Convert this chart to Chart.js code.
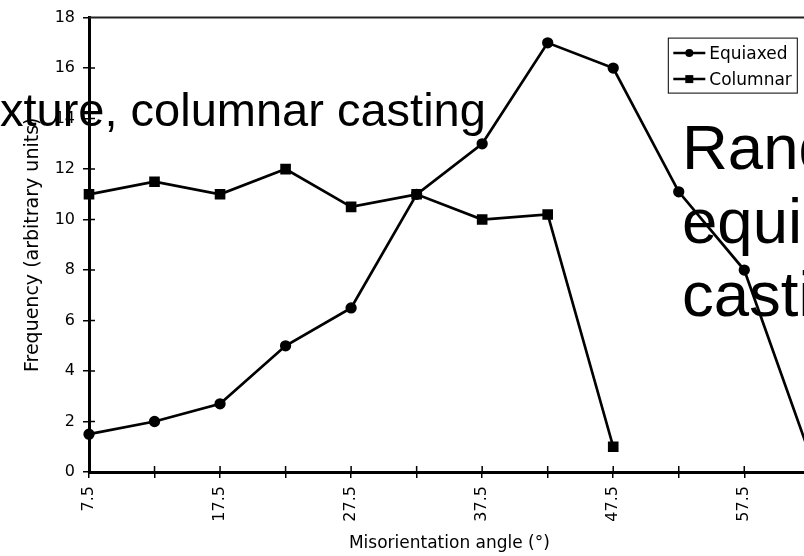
<!DOCTYPE html>
<html>
<head>
<meta charset="utf-8">
<script src="https://cdn.jsdelivr.net/npm/chart.js@4.4.0/dist/chart.umd.min.js"></script>
<style>
  html, body { margin: 0; padding: 0; overflow: hidden; background: #fff; width: 804px; height: 556px; }
  #wrap { position: relative; width: 837px; height: 556px; }
  .note { position: absolute; font-family: "Liberation Sans", Arial, sans-serif; color: #000; white-space: nowrap; pointer-events: none; }
  #note1 { left: 0; top: 86px; font-size: 47px; line-height: 47px; }
  #note2 { left: 682px; top: 111px; font-size: 63.5px; line-height: 73.5px; }
</style>
</head>
<body>
<div id="wrap">
  <canvas id="myChart"></canvas>
  <div class="note" id="note1">xture, columnar casting</div>
  <div class="note" id="note2">Random<br>equiaxed<br>casting</div>
</div>
<script>
// data
const angles = ['7.5', '12.5', '17.5', '22.5', '27.5', '32.5', '37.5', '42.5', '47.5', '52.5', '57.5', '62.5']
const equiaxed = [1.5, 2, 2.7, 5, 6.5, 11, 13, 17, 16, 11.1, 8, 0.7]
const columnar = [11, 11.5, 11, 12, 10.5, 11, 10, 10.2, 1, null, null, null]
const yMin = 0
const yMax = 18
const yStep = 2

const FONT = "'DejaVu Sans', sans-serif"

// ticks that cross the axis + top frame line
const framePlugin = {
    id: 'frame',
    afterDraw(chart) {
        const ctx = chart.ctx
        const a = chart.chartArea
        const x = chart.scales.x
        const y = chart.scales.y
        ctx.save()
        ctx.strokeStyle = '#000'
        ctx.lineWidth = 1.5
        ctx.beginPath()
        x.ticks.forEach((t, i) => {
            const px = x.getPixelForTick(i)
            ctx.moveTo(px, a.bottom)
            ctx.lineTo(px, a.bottom - 6)
        })
        y.ticks.forEach((t, i) => {
            if (t.value == yMax) return
            const py = y.getPixelForTick(i)
            ctx.moveTo(a.left, py)
            ctx.lineTo(a.left + 6, py)
        })
        ctx.stroke()
        ctx.strokeStyle = '#222'
        ctx.lineWidth = 2
        ctx.beginPath()
        ctx.moveTo(a.left, a.top)
        ctx.lineTo(a.right, a.top)
        ctx.stroke()
        ctx.restore()
    }
}

// boxed legend inside the plot, top right
const boxLegend = {
    id: 'boxLegend',
    afterDraw(chart) {
        const ctx = chart.ctx
        const a = chart.chartArea
        const bx = a.right - 141.5
        const by = a.top + 20.5
        const bw = 129
        const bh = 55
        ctx.save()
        ctx.fillStyle = '#fff'
        ctx.fillRect(bx, by, bw, bh)
        ctx.strokeStyle = '#000'
        ctx.lineWidth = 1
        ctx.strokeRect(bx, by, bw, bh)
        ctx.font = '17px ' + FONT
        ctx.textBaseline = 'middle'
        chart.data.datasets.forEach((ds, i) => {
            const ry = by + 15 + i * 26
            ctx.strokeStyle = '#000'
            ctx.lineWidth = 2.5
            ctx.beginPath()
            ctx.moveTo(bx + 5, ry)
            ctx.lineTo(bx + 37, ry)
            ctx.stroke()
            ctx.fillStyle = '#000'
            if (ds.pointStyle == 'rect') {
                ctx.fillRect(bx + 17, ry - 4, 8, 8)
            } else {
                ctx.beginPath()
                ctx.arc(bx + 21, ry, 4, 0, Math.PI * 2)
                ctx.fill()
            }
            ctx.fillText(ds.label, bx + 41, ry + 1)
        })
        ctx.restore()
    }
}

function chart() {
    const data = {
        labels: angles,
        datasets: [
            {
                label: 'Equiaxed',
                data: equiaxed,
                borderColor: '#000',
                backgroundColor: '#000',
                borderWidth: 2.7,
                pointStyle: 'circle',
                pointRadius: 4.3,
                tension: 0,
                clip: false
            },
            {
                label: 'Columnar',
                data: columnar,
                borderColor: '#000',
                backgroundColor: '#000',
                borderWidth: 2.7,
                pointStyle: 'rect',
                pointRadius: 5.6,
                tension: 0,
                spanGaps: false,
                clip: false
            }
        ]
    }

    const config = {
        type: 'line',
        data: data,
        options: {
            responsive: true,
            maintainAspectRatio: false,
            animation: false,
            layout: { padding: { left: 0, top: 15, right: 21, bottom: 0 } },
            plugins: {
                legend: { display: false },
                tooltip: { enabled: false }
            },
            scales: {
                x: {
                    type: 'category',
                    offset: false,
                    afterFit(scale) { scale.height = 84 },
                    border: { display: true, color: '#000', width: 3 },
                    grid: { drawOnChartArea: false, drawTicks: true, tickLength: 6, color: '#000', lineWidth: 1.5 },
                    ticks: {
                        autoSkip: false,
                        maxRotation: 90,
                        minRotation: 90,
                        padding: 8,
                        color: '#000',
                        font: { family: FONT, size: 16 },
                        callback: function (v, i) { return i % 2 == 0 ? angles[i] : '' }
                    },
                    title: {
                        display: true,
                        text: 'Misorientation angle (°)',
                        color: '#000',
                        font: { family: FONT, size: 17 },
                        padding: { top: 0, bottom: 2 }
                    }
                },
                y: {
                    min: yMin,
                    max: yMax,
                    afterFit(scale) { scale.width = 89 },
                    border: { display: true, color: '#000', width: 3 },
                    grid: { drawOnChartArea: false, drawTicks: true, tickLength: 6, color: '#000', lineWidth: 1.5 },
                    ticks: {
                        stepSize: yStep,
                        padding: 8,
                        color: '#000',
                        font: { family: FONT, size: 16 }
                    },
                    title: {
                        display: true,
                        text: 'Frequency (arbitrary units)',
                        color: '#000',
                        font: { family: FONT, size: 19 },
                        padding: { top: 22, bottom: 0 }
                    }
                }
            }
        },
        plugins: [framePlugin, boxLegend]
    }

    const myChart = new Chart(document.getElementById('myChart'), config)
}
chart()
</script>
</body>
</html>
